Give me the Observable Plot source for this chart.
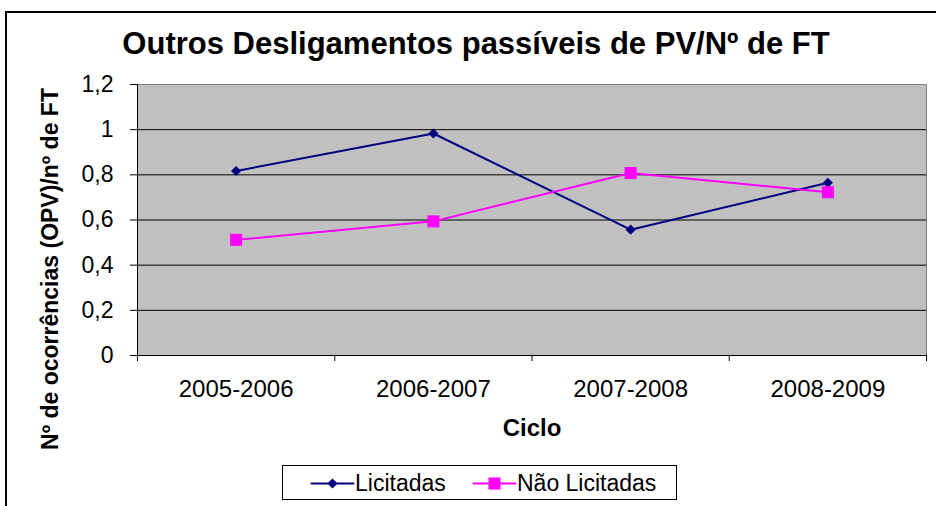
<!DOCTYPE html>
<html><head><meta charset="utf-8">
<script src="https://cdn.jsdelivr.net/npm/d3@7"></script>
<script src="https://cdn.jsdelivr.net/npm/@observablehq/plot@0.6"></script>
<style>
html,body{margin:0;padding:0;background:#fff;width:936px;height:506px;overflow:hidden;}
#wrap{position:relative;width:936px;height:506px;font-family:"Liberation Sans",Arial,sans-serif;color:#000;}
#chart{position:absolute;left:0;top:0;}
#border{position:absolute;left:5px;top:11px;width:1000px;height:1000px;border:2px solid #000;box-sizing:border-box;}
#title{position:absolute;left:0;width:952px;top:28px;line-height:31px;text-align:center;font-weight:bold;font-size:31px;white-space:nowrap;}
#ytitle{position:absolute;left:50px;top:269px;transform:translate(-50%,-50%) rotate(-90deg);font-weight:bold;font-size:23px;line-height:24px;white-space:nowrap;}
#legend{position:absolute;left:282px;top:465px;width:395px;height:35px;border:1px solid #000;box-sizing:border-box;background:#fff;}
.sw{position:absolute;top:7px;}
.lt{position:absolute;top:4px;font-size:23px;line-height:26px;white-space:nowrap;}
</style></head>
<body>
<div id="wrap">
  <div id="border"></div>
  <div id="chart"></div>
  <div id="title"></div>
  <div id="ytitle"></div>
  <div id="legend"></div>
</div>
<script>
const ciclos = ["2005-2006", "2006-2007", "2007-2008", "2008-2009"];
const licitadas = [0.817, 0.983, 0.557, 0.765];
const naoLicitadas = [0.512, 0.594, 0.808, 0.723];
const yTicks = [0, 0.2, 0.4, 0.6, 0.8, 1, 1.2];
const series = ["Licitadas", "Não Licitadas"];
const colors = ["#000080", "#FF00FF"];
const titleText = "Outros Desligamentos passíveis de PV/Nº de FT";
const xTitle = "Ciclo";
const yTitle = "Nº de ocorrências (OPV)/nº de FT";

document.getElementById("title").textContent = titleText;
document.getElementById("ytitle").textContent = yTitle;

const data = ciclos.flatMap((c, i) => [
  {ciclo: c, i, serie: series[0], v: licitadas[i]},
  {ciclo: c, i, serie: series[1], v: naoLicitadas[i]}
]);
const pos = d => d.i + 0.5;
const bounds = d3.range(ciclos.length + 1);
const centers = ciclos.map((c, i) => i + 0.5);

const chart = Plot.plot({
  width: 936, height: 506,
  marginLeft: 137, marginRight: 10, marginTop: 84, marginBottom: 151,
  style: {fontFamily: '"Liberation Sans", Arial, sans-serif', fontSize: "22px", background: "transparent", color: "#000", overflow: "visible"},
  x: {type: "linear", domain: [0, ciclos.length], axis: null},
  y: {domain: [0, 1.2], axis: null},
  color: {domain: series, range: colors},
  marks: [
    Plot.frame({fill: "#C0C0C0", stroke: "#808080"}),
    Plot.gridY(yTicks.filter(t => t > 0 && t < 1.2), {stroke: "#000", strokeOpacity: 1}),
    Plot.ruleX([0], {stroke: "#000"}),
    Plot.ruleY([0], {stroke: "#000"}),
    Plot.axisY(yTicks, {tickSize: 7, tickPadding: 17, tickFormat: d => String(d).replace(".", ","), fontSize: 23, label: null}),
    Plot.axisX(bounds, {tickSize: 6, tickFormat: () => "", label: null}),
    Plot.axisX(centers, {tickSize: 0, tickPadding: 24, tickFormat: d => ciclos[Math.floor(d)], fontSize: 24, label: null}),
    Plot.line(data, {x: pos, y: "v", z: "serie", stroke: "serie", strokeWidth: 2}),
    Plot.dot(data.filter(d => d.serie === series[0]), {x: pos, y: "v", symbol: "diamond2", r: 4.6, fill: colors[0], stroke: null}),
    Plot.dot(data.filter(d => d.serie === series[1]), {x: pos, y: "v", symbol: "square", r: 6.8, fill: colors[1], stroke: null}),
    Plot.text([xTitle], {frameAnchor: "bottom", dy: 73, fontWeight: "bold", fontSize: 24, lineAnchor: "middle"})
  ]
});
document.getElementById("chart").appendChild(chart);

// legend
const legend = document.getElementById("legend");
const swX = [28, 190], txX = [72, 234];
series.forEach((s, k) => {
  const sw = Plot.plot({
    width: 42, height: 20, margin: 0,
    x: {domain: [0, 1], axis: null}, y: {domain: [0, 1], axis: null},
    style: {background: "transparent", overflow: "visible"},
    marks: [
      Plot.line([[0, 0.5], [1, 0.5]], {stroke: colors[k], strokeWidth: 2}),
      Plot.dot([[0.5, 0.5]], {symbol: k === 0 ? "diamond2" : "square", r: k === 0 ? 4.6 : 6.8, fill: colors[k], stroke: null})
    ]
  });
  sw.classList.add("sw");
  sw.style.left = swX[k] + "px";
  legend.appendChild(sw);
  const t = document.createElement("div");
  t.className = "lt";
  t.style.left = txX[k] + "px";
  t.textContent = s;
  legend.appendChild(t);
});
</script>
</body></html>
